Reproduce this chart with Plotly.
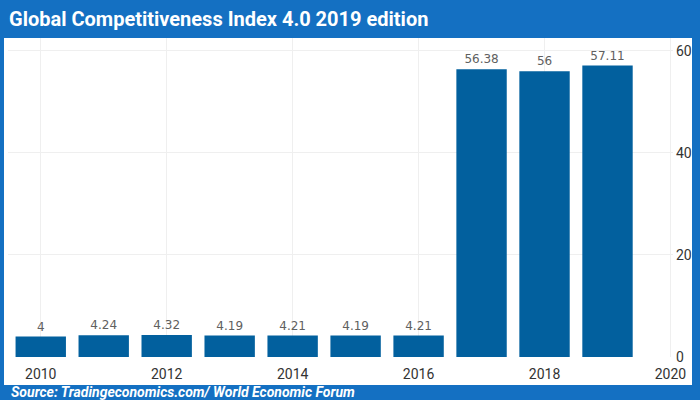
import plotly.graph_objects as go

years = [2010, 2011, 2012, 2013, 2014, 2015, 2016, 2017, 2018, 2019]
values = [4, 4.24, 4.32, 4.19, 4.21, 4.19, 4.21, 56.38, 56, 57.11]
labels = ["4", "4.24", "4.32", "4.19", "4.21", "4.19", "4.21", "56.38", "56", "57.11"]
xticks = [2010, 2012, 2014, 2016, 2018, 2020]
yticks = [0, 20, 40, 60]

FRAME = "#1470c2"
BAR = "#02609e"
FONT = "Roboto, Liberation Sans, Arial, sans-serif"

fig = go.Figure(go.Bar(
    x=years, y=values, text=labels, textposition="outside",
    marker=dict(color=BAR, line=dict(width=0)), width=0.8,
    textfont=dict(family="DejaVu Sans, sans-serif", size=12, color="#606060"),
    cliponaxis=False,
))

fig.update_layout(
    width=700, height=400,
    margin=dict(l=8, r=27, t=38, b=43),
    paper_bgcolor=FRAME, plot_bgcolor="white",
    showlegend=False,
    xaxis=dict(range=[2009.48, 2020.04], tickvals=xticks, ticktext=[str(t) for t in xticks],
               showgrid=True, gridcolor="#efefef", gridwidth=1, zeroline=False,
               showline=False, ticks="", ticklen=0, ticklabelstandoff=7,
               tickfont=dict(family=FONT, size=14, color="#333333")),
    yaxis=dict(range=[0, 62.5], tickvals=yticks, side="right",
               showgrid=True, gridcolor="#efefef", gridwidth=1, zeroline=False,
               showline=False, ticks="", ticklabelstandoff=2,
               tickfont=dict(family=FONT, size=14, color="#333333")),
    shapes=[dict(type="rect", xref="paper", yref="paper", layer="below",
                 x0=-4/665, x1=(692-8)/665, y0=-28/319, y1=1.0,
                 fillcolor="white", line=dict(width=0))],
    annotations=[
        dict(text="<b>Global Competitiveness Index 4.0 2019 edition</b>", xref="paper", yref="paper",
             x=0, y=1, xshift=-1, yshift=19, xanchor="left", yanchor="middle", showarrow=False,
             font=dict(family=FONT, size=20, color="white")),
        dict(text="<b><i>Source: Tradingeconomics.com/ World Economic Forum</i></b>", xref="paper", yref="paper",
             x=0, y=0, xshift=1, yshift=-35, xanchor="left", yanchor="middle", showarrow=False,
             font=dict(family=FONT, size=14, color="white")),
    ],
)

fig.write_html("out.html")
